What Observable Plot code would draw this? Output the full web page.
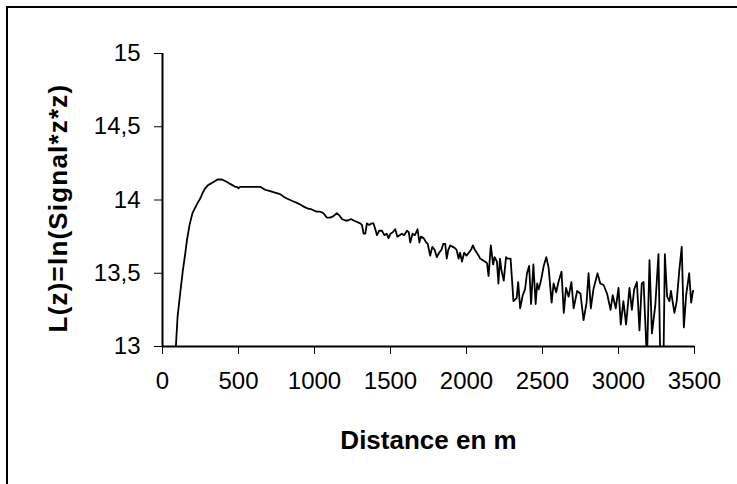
<!DOCTYPE html>
<html>
<head>
<meta charset="utf-8">
<script src="https://cdn.jsdelivr.net/npm/d3@7"></script>
<script src="https://cdn.jsdelivr.net/npm/@observablehq/plot@0.6"></script>
<style>
  html, body { margin: 0; padding: 0; background: #fff; }
  #wrap { position: relative; width: 737px; height: 484px; overflow: hidden; }
  #frame { position: absolute; left: 6px; top: 6px; width: 760px; height: 500px;
           border-left: 2px solid #000; border-top: 2px solid #000; box-sizing: border-box; }
  #chart { position: absolute; left: 0; top: 0; }
  g.ylab text { letter-spacing: 1.2px; }
</style>
</head>
<body>
<div id="wrap"><div id="frame"></div><div id="chart"></div></div>
<script>
const distance = [88, 99, 116, 134, 149, 160, 178, 197, 226, 248, 265, 281, 298, 314, 330, 347, 362, 375, 390, 412, 430, 445, 462, 478, 490, 500, 511, 522, 550, 577, 610, 643, 675, 708, 740, 774, 800, 818, 840, 862, 884, 905, 920, 939, 960, 971, 993, 1015, 1037, 1059, 1081, 1103, 1125, 1147, 1168, 1180, 1202, 1220, 1240, 1257, 1280, 1301, 1312, 1323, 1334, 1345, 1360, 1375, 1388, 1400, 1411, 1425, 1444, 1460, 1475, 1487, 1500, 1515, 1531, 1545, 1560, 1575, 1590, 1608, 1620, 1630, 1645, 1660, 1678, 1690, 1700, 1718, 1735, 1745, 1761, 1775, 1790, 1805, 1820, 1835, 1847, 1860, 1870, 1880, 1893, 1910, 1925, 1935, 1948, 1958, 1970, 1985, 2000, 2015, 2030, 2042, 2055, 2068, 2080, 2090, 2105, 2120, 2135, 2145, 2160, 2175, 2185, 2200, 2210, 2220, 2230, 2245, 2260, 2270, 2290, 2309, 2330, 2340, 2353, 2370, 2385, 2398, 2412, 2425, 2440, 2455, 2465, 2475, 2490, 2508, 2525, 2540, 2560, 2573, 2590, 2605, 2625, 2640, 2655, 2672, 2690, 2705, 2728, 2750, 2770, 2790, 2803, 2818, 2835, 2862, 2880, 2902, 2925, 2948, 2962, 2982, 3000, 3015, 3032, 3050, 3072, 3088, 3103, 3121, 3138, 3153, 3165, 3187, 3204, 3220, 3242, 3263, 3275, 3287, 3296, 3305, 3320, 3335, 3345, 3368, 3383, 3400, 3416, 3430, 3445, 3465, 3478, 3490, 3500];
const signal = [13.0, 13.2, 13.36, 13.52, 13.63, 13.72, 13.83, 13.91, 13.97, 14.01, 14.05, 14.08, 14.10, 14.11, 14.12, 14.13, 14.14, 14.14, 14.14, 14.13, 14.12, 14.11, 14.10, 14.09, 14.09, 14.08, 14.09, 14.09, 14.09, 14.09, 14.09, 14.09, 14.07, 14.06, 14.05, 14.04, 14.02, 14.01, 14.00, 13.99, 13.98, 13.97, 13.96, 13.95, 13.94, 13.94, 13.93, 13.92, 13.92, 13.91, 13.88, 13.88, 13.89, 13.91, 13.89, 13.87, 13.86, 13.86, 13.87, 13.86, 13.85, 13.84, 13.83, 13.77, 13.77, 13.84, 13.83, 13.84, 13.84, 13.80, 13.76, 13.79, 13.79, 13.76, 13.77, 13.74, 13.77, 13.78, 13.80, 13.75, 13.76, 13.77, 13.76, 13.79, 13.78, 13.71, 13.77, 13.76, 13.80, 13.71, 13.75, 13.74, 13.71, 13.70, 13.62, 13.68, 13.66, 13.61, 13.64, 13.66, 13.70, 13.70, 13.60, 13.66, 13.69, 13.68, 13.67, 13.66, 13.60, 13.64, 13.58, 13.64, 13.62, 13.64, 13.66, 13.69, 13.66, 13.64, 13.62, 13.60, 13.59, 13.58, 13.57, 13.48, 13.69, 13.56, 13.61, 13.58, 13.43, 13.60, 13.52, 13.45, 13.61, 13.60, 13.60, 13.31, 13.33, 13.44, 13.26, 13.35, 13.39, 13.50, 13.55, 13.29, 13.56, 13.29, 13.43, 13.39, 13.45, 13.55, 13.61, 13.54, 13.30, 13.43, 13.37, 13.44, 13.51, 13.23, 13.40, 13.34, 13.44, 13.26, 13.38, 13.36, 13.18, 13.30, 13.50, 13.26, 13.39, 13.50, 13.43, 13.42, 13.36, 13.25, 13.35, 13.26, 13.40, 13.15, 13.31, 13.15, 13.40, 13.25, 13.39, 13.44, 13.11, 13.43, 13.44, 12.9, 13.59, 13.09, 13.28, 13.63, 12.9, 12.95, 12.9, 13.63, 13.34, 13.31, 13.38, 13.23, 13.31, 13.52, 13.68, 13.13, 13.35, 13.50, 13.30, 13.38, 13.38];
const xTicks = [0, 500, 1000, 1500, 2000, 2500, 3000, 3500];
const yTicks = [13, 13.5, 14, 14.5, 15];
const xLabel = "Distance en m";
const yLabel = "L(z)=ln(Signal*z*z)";

const data = distance.map((d, i) => ({d, v: signal[i]}));
const fmt = v => String(v).replace(".", ",");

const chart = Plot.plot({
  width: 737,
  height: 484,
  marginLeft: 162,
  marginRight: 43,
  marginTop: 53,
  marginBottom: 138,
  style: {fontFamily: "'Liberation Sans', Arial, sans-serif", fontSize: "24px", color: "#000", background: "transparent"},
  x: {domain: [0, 3500]},
  y: {domain: [13, 15]},
  marks: [
    Plot.axisX({ticks: xTicks, tickSize: 8, tickPadding: 17, tickFormat: d => String(d), label: null, fontSize: 24}),
    Plot.axisY({ticks: yTicks, tickSize: 8, tickPadding: 14, tickFormat: fmt, label: null, fontSize: 24}),
    Plot.ruleX([0], {strokeWidth: 2}),
    Plot.ruleY([13], {strokeWidth: 2}),
    Plot.line(data, {x: "d", y: "v", clip: true, stroke: "#000", strokeWidth: 1.8}),
    Plot.text([xLabel], {frameAnchor: "bottom", textAnchor: "middle", dy: 94, lineAnchor: "middle", fontWeight: "bold", fontSize: 26, text: d => d}),
    Plot.text([yLabel], {frameAnchor: "left", textAnchor: "middle", dx: -104, dy: 8, rotate: -90, lineAnchor: "middle", fontWeight: "bold", fontSize: 26, text: d => d, className: "ylab"})
  ]
});
document.getElementById("chart").appendChild(chart);
</script>
</body>
</html>
